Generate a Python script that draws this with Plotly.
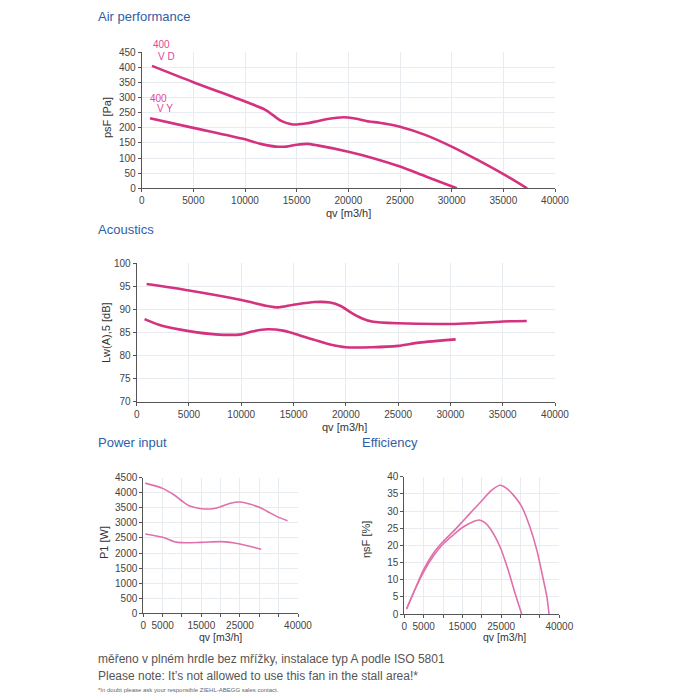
import plotly.graph_objects as go

# ---- data ----
perf_vd_x = [1000, 5000, 10000, 12000, 13500, 14500, 15000, 16000, 17000, 18000, 19500, 20500, 22000, 23000, 25000, 27500, 30000, 32500, 35000, 37300]
perf_vd_y = [405, 351, 287, 259, 223, 212, 211, 215, 222, 229, 235, 232, 221, 217, 204, 176, 138, 94, 47, 0]
perf_vy_x = [800, 5000, 10000, 11500, 13000, 14000, 15000, 16000, 17000, 20000, 22500, 25000, 27500, 30500]
perf_vy_y = [232, 200, 162, 147, 138, 138, 144, 147, 142, 121, 99, 72, 39, 0]

ac_vd_x = [950, 5000, 10000, 12500, 13500, 15000, 17000, 18500, 19500, 20500, 21500, 22500, 25000, 30000, 32000, 35000, 37300]
ac_vd_y = [95.5, 94.1, 92.05, 90.75, 90.45, 91.0, 91.6, 91.5, 90.75, 89.3, 88.1, 87.4, 87.0, 86.85, 87.0, 87.4, 87.5]
ac_vy_x = [750, 2500, 5000, 7500, 10000, 11000, 12500, 14000, 15000, 17000, 18500, 20000, 22500, 25000, 27000, 30500]
ac_vy_y = [87.9, 86.4, 85.3, 84.6, 84.6, 85.2, 85.7, 85.4, 84.8, 83.4, 82.4, 81.8, 81.8, 82.1, 82.8, 83.5]

pw_vd_x = [500, 5000, 8000, 10000, 12000, 15000, 18000, 20000, 22500, 25000, 27500, 30000, 33000, 35000, 37300]
pw_vd_y = [4320, 4146, 3925, 3726, 3560, 3472, 3472, 3538, 3649, 3693, 3627, 3516, 3317, 3184, 3074]
pw_vy_x = [500, 5000, 8000, 10000, 15000, 20000, 22500, 25000, 28000, 30500]
pw_vy_y = [2632, 2521, 2377, 2344, 2355, 2377, 2355, 2300, 2211, 2123]

ef_vd_x = [600, 2700, 5000, 7500, 10000, 12600, 15000, 17750, 20000, 22500, 24700, 26400, 28100, 30300, 32400, 34200, 35900, 36800, 37350]
ef_vd_y = [1.6, 7.0, 13.0, 17.7, 21.1, 24.0, 26.9, 30.3, 33.0, 36.0, 37.5, 36.6, 34.7, 31.3, 25.4, 18.6, 9.9, 5.0, 0]
ef_vy_x = [600, 2700, 5000, 7500, 10000, 12600, 15000, 17750, 19300, 20800, 22100, 24700, 26800, 28600, 30300]
ef_vy_y = [1.4, 7.0, 12.3, 16.9, 20.4, 23.0, 25.2, 26.9, 27.4, 26.6, 25.0, 19.6, 12.8, 6.0, 0]

x_ticks = [0, 5000, 10000, 15000, 20000, 25000, 30000, 35000, 40000]
x_ticks_small = ['0', '5000', '', '15000', '', '25000', '', '', '40000']

MAG = '#d4327f'
PINK = '#e070ac'
BLUE = '#2f5ea8'
FONT = 'Liberation Sans, Arial, sans-serif'
TFONT = 'Liberation Sans Narrow, Arial Narrow, Liberation Sans, sans-serif'

fig = go.Figure()

def add(x, y, xa, ya, color, width):
    fig.add_trace(go.Scatter(x=x, y=y, xaxis=xa, yaxis=ya, mode='lines',
                             line=dict(color=color, width=width, shape='spline', smoothing=0.8),
                             hoverinfo='skip', showlegend=False))

add(perf_vd_x, perf_vd_y, 'x', 'y', MAG, 2.6)
add(perf_vy_x, perf_vy_y, 'x', 'y', MAG, 2.6)
add(ac_vd_x, ac_vd_y, 'x2', 'y2', MAG, 2.6)
add(ac_vy_x, ac_vy_y, 'x2', 'y2', MAG, 2.6)
add(pw_vd_x, pw_vd_y, 'x3', 'y3', PINK, 1.6)
add(pw_vy_x, pw_vy_y, 'x3', 'y3', PINK, 1.6)
add(ef_vd_x, ef_vd_y, 'x4', 'y4', PINK, 1.6)
add(ef_vy_x, ef_vy_y, 'x4', 'y4', PINK, 1.6)

def ax(domain, anchor, rng, dtick=None, tickvals=None, ticktext=None):
    d = dict(domain=domain, anchor=anchor, range=rng, showgrid=True, gridcolor='#e8ebf0', gridwidth=1,
             showline=True, linecolor='#555', linewidth=1, ticks='outside', ticklen=3, tickcolor='#555',
             zeroline=False, tickformat='d', automargin=False,
             tickfont=dict(size=10, color='#444', family=TFONT), fixedrange=True)
    if dtick is not None:
        d.update(tickmode='linear', tick0=rng[0], dtick=dtick)
    if tickvals is not None:
        d.update(tickmode='array', tickvals=tickvals, ticktext=ticktext)
    return d

def p(v):
    return v / 700.0

layout_axes = dict(
    xaxis=ax([p(141.7), p(555)], 'y', [0, 40000], dtick=5000),
    yaxis=ax([1 - p(188.3), 1 - p(52.3)], 'x', [0, 450], dtick=50),
    xaxis2=ax([p(136.7), p(555)], 'y2', [0, 40000], dtick=5000),
    yaxis2=ax([1 - p(401.7), 1 - p(263.3)], 'x2', [70, 100], dtick=5),
    xaxis3=ax([p(143.3), p(298)], 'y3', [0, 40000], tickvals=x_ticks, ticktext=x_ticks_small),
    yaxis3=ax([1 - p(613.3), 1 - p(477.7)], 'x3', [0, 4500], dtick=500),
    xaxis4=ax([p(404.3), p(559.3)], 'y4', [0, 40000], tickvals=x_ticks, ticktext=x_ticks_small),
    yaxis4=ax([1 - p(614), 1 - p(476.7)], 'x4', [0, 40], dtick=5),
)

annotations = []
def txt(x, y, s, size, color, xanchor='left', yanchor='middle', angle=0, family=FONT):
    annotations.append(dict(x=p(x), y=1 - p(y), xref='paper', yref='paper', text=s, showarrow=False,
                            xanchor=xanchor, yanchor=yanchor, textangle=angle, borderpad=0,
                            font=dict(size=size, color=color, family=family)))

txt(97, 16, 'Air performance', 13, BLUE)
txt(97, 230, 'Acoustics', 13, BLUE)
txt(97, 442, 'Power input', 13, BLUE)
txt(361, 442, 'Efficiency', 13, BLUE)
txt(97, 659, 'měřeno v plném hrdle bez mřížky, instalace typ A podle ISO 5801', 12, '#555')
txt(97, 676, 'Please note: It\u2019s not allowed to use this fan in the stall area!*', 12, '#555')
txt(97, 690, '*In doubt please ask your responsible ZIEHL-ABEGG sales contact.', 6, '#666')

# axis titles
AX = '#333'
txt(348, 213, 'qv [m3/h]', 11, AX, 'center', family=TFONT)
txt(107, 118, 'psF [Pa]', 11, AX, 'center', angle=-90, family=TFONT)
txt(344, 427, 'qv [m3/h]', 11, AX, 'center', family=TFONT)
txt(106, 333, 'Lw(A),5 [dB]', 11, AX, 'center', angle=-90, family=TFONT)
txt(220, 637, 'qv [m3/h]', 10.5, AX, 'center', family=TFONT)
txt(104, 543, 'P1 [W]', 11, AX, 'center', angle=-90, family=TFONT)
txt(504, 637, 'qv [m3/h]', 10.5, AX, 'center', family=TFONT)
txt(366, 540, 'ηsF [%]', 11, AX, 'center', angle=-90, family=TFONT)

# curve labels
LBL = '#e0489a'
txt(152, 45, '400', 10, LBL, family=TFONT)
txt(157, 57, 'V D', 10, LBL, family=TFONT)
txt(149, 98, '400', 10, LBL, family=TFONT)
txt(156, 109, 'V Y', 10, LBL, family=TFONT)

fig.update_layout(width=700, height=700, margin=dict(l=0, r=0, t=0, b=0, autoexpand=False),
                  paper_bgcolor='white', plot_bgcolor='white', showlegend=False,
                  annotations=annotations, **layout_axes)
fig.update_traces(cliponaxis=False)

fig.write_html('out.html')
